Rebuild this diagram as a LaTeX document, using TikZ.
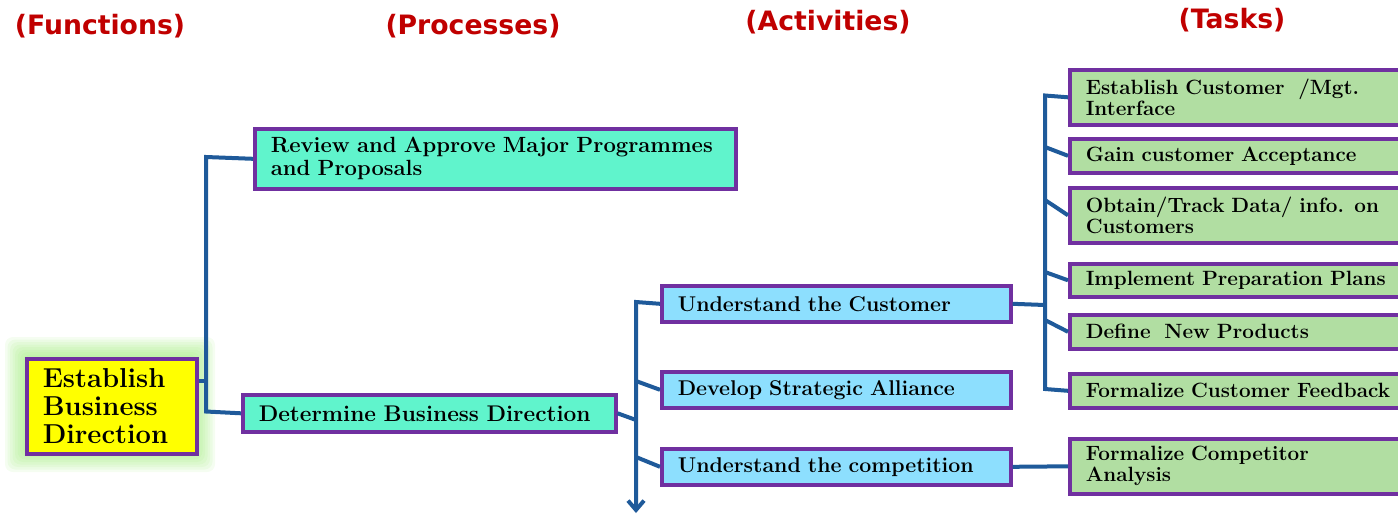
\documentclass[tikz,border=0pt]{standalone}
\usepackage{fontspec}
\newfontfamily\headfont{DejaVu Sans}
\usetikzlibrary{arrows.meta,positioning}
\definecolor{boxborder}{HTML}{7030A0}
\definecolor{linkblue}{HTML}{1F5A9A}
\definecolor{headred}{HTML}{C00000}
\definecolor{funcfill}{HTML}{FFFF00}
\definecolor{procfill}{HTML}{60F4CC}
\definecolor{actfill}{HTML}{8DDFFE}
\definecolor{taskfill}{HTML}{B1DEA2}
\definecolor{glow}{HTML}{8CE860}

\begin{document}
\begin{tikzpicture}[x=0.75pt,y=-0.75pt,
  box/.style={draw=boxborder,line width=2.7pt,anchor=north west,align=left,inner xsep=12pt,inner ysep=0pt},
  func node/.style={box,fill=funcfill,text width=103.5pt,minimum height=71.25pt,font=\fontsize{20.5}{21}\selectfont\bfseries},
  proc node/.style={box,fill=procfill,text width=255.75pt,font=\fontsize{17}{17.5}\selectfont\bfseries},
  act node/.style={box,fill=actfill,text width=237.75pt,minimum height=27pt,font=\fontsize{16}{17}\selectfont\bfseries},
  task node/.style={box,fill=taskfill,text width=232.5pt,font=\fontsize{15.5}{15.75}\selectfont\bfseries},
  head node/.style={text=headred,font=\headfont\fontsize{20}{22}\selectfont\bfseries},
  link/.style={draw=linkblue,line width=3pt}]
\useasboundingbox (0,0) rectangle (1398,515);
% glow behind the function box
\foreach \g in {1,...,8}
  \fill[glow,opacity=0.09,rounded corners=6pt] (25-2.5*\g,357-2.5*\g) rectangle (195+2.5*\g,452+2.5*\g);
\begin{scope}
\node[head node] (hfunc) at (100,26) {(Functions)};
\node[head node] (hproc) at (473,26) {(Processes)};
\node[head node] (hact) at (828,22) {(Activities)};
\node[head node] (htask) at (1232,20) {(Tasks)};
\end{scope}
\begin{scope}
\node[func node] (fn) at (25,357) {Establish\\Business\\Direction};
\node[proc node,text width=336.75pt,minimum height=45pt,font=\fontsize{16.5}{17.25}\selectfont\bfseries] (p1) at (253,127) {Review and Approve Major Programmes\\and Proposals};
\node[proc node,minimum height=27.75pt] (p2) at (241,393) {Determine Business Direction};
\node[act node] (a1) at (660,284) {Understand the Customer};
\node[act node] (a2) at (660,370) {Develop Strategic Alliance};
\node[act node] (a3) at (660,447) {Understand the competition};
\node[task node,minimum height=41.25pt] (t1) at (1068,68) {Establish Customer \ /Mgt.\\Interface};
\node[task node,minimum height=25.5pt] (t2) at (1068,137) {Gain customer Acceptance};
\node[task node,minimum height=41.25pt] (t3) at (1068,186) {Obtain/Track Data/ info. on\\Customers};
\node[task node,minimum height=24.75pt] (t4) at (1068,262) {Implement Preparation Plans};
\node[task node,minimum height=25.5pt] (t5) at (1068,313) {Define \ New Products};
\node[task node,minimum height=25.5pt] (t6) at (1068,372) {Formalize Customer Feedback};
\node[task node,minimum height=41.25pt] (t7) at (1068,437) {Formalize Competitor\\Analysis};
\end{scope}
\begin{scope}
\coordinate (b1top) at (206,157);
\coordinate (b1mid) at (206,381);
\coordinate (b1bot) at (206,411.5);
\coordinate (b2top) at (636,302);
\coordinate (b2in) at (636,420);
\coordinate (b2mid) at (636,381);
\coordinate (b2low) at (636,457);
\coordinate (b2end) at (636,513);
\coordinate (b3top) at (1045,95.5);
\coordinate (b3in) at (1045,305);
\coordinate (b3a) at (1045,147);
\coordinate (b3b) at (1045,200);
\coordinate (b3c) at (1045,272);
\coordinate (b3d) at (1045,320);
\coordinate (b3bot) at (1045,389);
\draw[link] (fn.east |- b1mid) -- (b1mid);
\draw[link] (p1.west) -- (b1top) -- (b1bot) -- (p2.west);
\draw[link] (p2.east) -- (b2in);
\draw[link,-{Straight Barb[length=7pt,width=12pt]}] (a1.west) -- (b2top) -- (b2end);
\draw[link] (b2mid) -- (a2.west);
\draw[link] (b2low) -- (a3.west);
\draw[link] (a1.east) -- (b3in);
\draw[link] (t1.west) -- (b3top) -- (b3bot) -- (t6.west);
\draw[link] (b3a) -- (t2.west);
\draw[link] (b3b) -- (t3.west);
\draw[link] (b3c) -- (t4.west);
\draw[link] (b3d) -- (t5.west);
\draw[link] (a3.east) -- (t7.west);
\end{scope}
\end{tikzpicture}
\end{document}
